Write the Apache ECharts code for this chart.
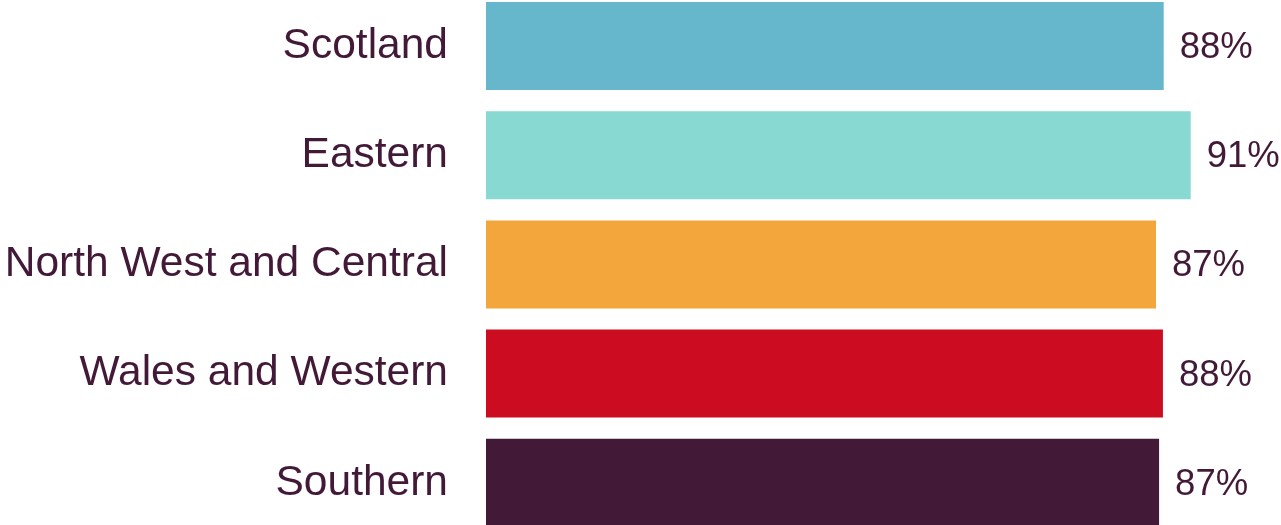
<!DOCTYPE html>
<html>
<head>
<meta charset="utf-8">
<script src="https://cdn.jsdelivr.net/npm/echarts@6/dist/echarts.min.js"></script>
<style>
  html, body { margin: 0; padding: 0; background: #fff; }
  #chart { width: 1281px; height: 525px; }
</style>
</head>
<body>
<div id="chart"></div>
<script>
// regions, top to bottom
const regions = ["Scotland", "Eastern", "North West and Central", "Wales and Western", "Southern"]
// share (%), label shows rounded value
const shares = [87.9, 91.4, 86.9, 87.8, 87.3]
const barColors = ["#67b7cc", "#88d9d1", "#f2a63b", "#cc0c20", "#421a38"]

const textColor = "#421a38"

let myChart = echarts.init(document.getElementById("chart"))
myChart.setOption({
  animation: false,
  grid: {
    left: 486,
    right: 24,
    top: -8.6,
    height: 546,
    containLabel: false,
    outerBoundsMode: "none",
  },
  xAxis: {
    type: "value",
    min: 0,
    max: 100,
    show: false,
    splitLine: { show: false },
  },
  yAxis: {
    type: "category",
    inverse: true,
    data: regions,
    axisLine: { show: false },
    axisTick: { show: false },
    axisLabel: {
      margin: 38,
      padding: [3, 0, 0, 0],
      color: textColor,
      fontFamily: "Liberation Sans, Arial, sans-serif",
      fontSize: 42.5,
    },
  },
  series: [
    {
      type: "bar",
      barWidth: 88,
      data: shares.map((v, i) => ({ value: v, itemStyle: { color: barColors[i] } })),
      label: {
        show: true,
        position: "right",
        distance: 16,
        offset: [0, 2],
        color: textColor,
        fontFamily: "Liberation Sans, Arial, sans-serif",
        fontSize: 36.5,
        formatter: (p) => Math.round(p.value) + "%",
      },
    },
  ],
})

window.addEventListener("resize", () => {
  myChart.resize()
})
</script>
</body>
</html>
